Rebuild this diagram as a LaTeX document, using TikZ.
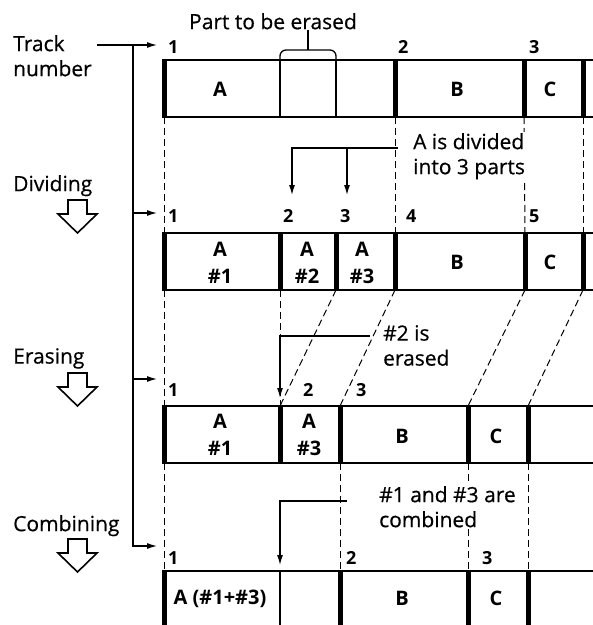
\documentclass[tikz,border=0pt]{standalone}
\usepackage{fontspec}
\setmainfont{Open Sans}
\newfontfamily\notefont{Open Sans}[FakeBold=0.5]
\usetikzlibrary{arrows.meta}
\tikzset{
  txt/.style={font=\notefont\fontsize{21}{25}\selectfont, inner sep=0pt, align=left, anchor=north west},
  note/.style={txt, fill=white, inner sep=1pt},
  celltxt/.style={font=\bfseries\fontsize{20}{27}\selectfont, inner sep=0pt, align=center},
  numtxt/.style={font=\bfseries\fontsize{18}{18}\selectfont, inner sep=0pt, anchor=south west},
  barline/.style={line width=1.3pt},
  thickmark/.style={line width=5pt},
  guide/.style={dash pattern=on 7pt off 4pt, line width=1pt},
  flowarrow/.style={-{Latex[length=10pt,width=6pt]}, line width=1.2pt},
  hollow/.style={draw, line width=1.6pt, fill=white, line join=miter}
}
\begin{document}
\begin{tikzpicture}[x=1pt, y=-1pt]
  \useasboundingbox (0,0) rectangle (593,625);

  % left-hand labels
  \node[txt] (track) at (13,35) {Track\\number};
  \node[txt] (divide) at (13,175) {Dividing};
  \node[txt] (erase) at (13,348) {Erasing};
  \node[txt] (combine) at (13,515) {Combining};
  \foreach \y in {200,373,539}
    \draw[hollow] (68,\y) -- ++(19,0) -- ++(0,14) -- ++(10,0) -- ++(-19.5,19) -- ++(-19.5,-19) -- ++(10,0) -- cycle;

  % row 1
  \draw[barline] (162,60) -- (593,60) (162,117) -- (593,117);
  \foreach \x [count=\i] in {164,280,336,395,524,583} {
    \coordinate (r1t\i) at (\x,60);
    \coordinate (r1b\i) at (\x,117);
  }
  \foreach \i in {1,4,5,6} \draw[thickmark] (r1t\i) -- (r1b\i);
  \foreach \i in {2,3} \draw[barline] (r1t\i) -- (r1b\i);
  \node[numtxt] (r1n1) at (168,54) {1};
  \node[numtxt] (r1n2) at (398,54) {2};
  \node[numtxt] (r1n3) at (529,54) {3};
  \node[celltxt] (r1a) at (220,89) {A};
  \node[celltxt] (r1b) at (457,89) {B};
  \node[celltxt] (r1c) at (550,89) {C};
  \node[txt, anchor=north] (part) at (273,13) {Part to be erased};
  \draw[barline, rounded corners=6pt] (r1t2) -- (280,50) -- (336,50) -- (r1t3);
  \draw[barline] (308,50) -- (part.south -| 308,50);

  % row 2
  \draw[barline] (162,233) -- (593,233) (162,290) -- (593,290);
  \foreach \x [count=\i] in {164,280,336,395,525,583} {
    \coordinate (r2t\i) at (\x,233);
    \coordinate (r2b\i) at (\x,290);
    \draw[thickmark] (r2t\i) -- (r2b\i);
  }
  \node[numtxt] (r2n1) at (168,223) {1};
  \node[numtxt] (r2n2) at (283,223) {2};
  \node[numtxt] (r2n3) at (340,223) {3};
  \node[numtxt] (r2n4) at (406,223) {4};
  \node[numtxt] (r2n5) at (529,223) {5};
  \node[celltxt] (r2a1) at (220,263) {A\\\#1};
  \node[celltxt] (r2a2) at (307,263) {A\\\#2};
  \node[celltxt] (r2a3) at (362,263) {A\\\#3};
  \node[celltxt] (r2b) at (457,262) {B};
  \node[celltxt] (r2c) at (550,262) {C};

  % row 3
  \draw[barline] (162,406) -- (593,406) (162,463) -- (593,463);
  \foreach \x [count=\i] in {164,280,340,468,528} {
    \coordinate (r3t\i) at (\x,406);
    \coordinate (r3b\i) at (\x,463);
    \draw[thickmark] (r3t\i) -- (r3b\i);
  }
  \node[numtxt] (r3n1) at (168,397) {1};
  \node[numtxt] (r3n2) at (303,397) {2};
  \node[numtxt] (r3n3) at (356,397) {3};
  \node[celltxt] (r3a1) at (220,435) {A\\\#1};
  \node[celltxt] (r3a3) at (309,435) {A\\\#3};
  \node[celltxt] (r3b) at (402,436) {B};
  \node[celltxt] (r3c) at (496,436) {C};

  % row 4
  \draw[barline] (162,571) -- (593,571);
  \foreach \x [count=\i] in {164,280,340,468,528} {
    \coordinate (r4t\i) at (\x,571);
    \coordinate (r4b\i) at (\x,625);
  }
  \foreach \i in {1,3,4,5} \draw[thickmark] (r4t\i) -- (r4b\i);
  \draw[barline] (r4t2) -- (r4b2);
  \node[numtxt] (r4n1) at (168,565) {1};
  \node[numtxt] (r4n2) at (346,565) {2};
  \node[numtxt] (r4n3) at (482,565) {3};
  \node[celltxt] (r4a) at (220,599) {A (\#1+\#3)};
  \node[celltxt] (r4b) at (402,598) {B};
  \node[celltxt] (r4c) at (496,598) {C};

  % dashed guides between rows
  \foreach \i in {1,4,5,6} \draw[guide] (r1b\i) -- (r2t\i);
  \foreach \a/\b in {1/1,2/2,3/2,4/3,5/4,6/5} \draw[guide] (r2b\a) -- (r3t\b);
  \foreach \i in {1,3,4,5} \draw[guide] (r3b\i) -- (r4t\i);

  % track number feed
  \coordinate (trackout) at (97,45);
  \foreach \y [count=\i] in {45,213,379,546} {
    \coordinate (s\i) at (133,\y);
    \coordinate (in\i) at (157,\y);
  }
  \draw[flowarrow] (trackout) -- (in1);
  \draw[flowarrow] (s1) -- (s4) -- (in4);
  \foreach \i in {2,3} \draw[flowarrow] (s\i) -- (in\i);

  % callouts
  \node[note] (divnote) at (412,132) {A is divided\\into 3 parts};
  \coordinate (dv0) at (398,148);
  \coordinate (dv1) at (292,148);
  \coordinate (dv2) at (347,148);
  \draw[flowarrow] (dv0) -- (dv1) -- ++(0,47);
  \draw[flowarrow] (dv2) -- ++(0,47);

  \node[txt] (erasenote) at (383,325) {\#2 is\\erased};
  \coordinate (er0) at (370,336);
  \coordinate (er1) at (280,336);
  \draw[flowarrow] (er0) -- (er1) -- ++(0,62);

  \node[note] (combnote) at (378,485) {\#1 and \#3 are\\combined};
  \coordinate (cb0) at (347,501);
  \coordinate (cb1) at (280,501);
  \draw[flowarrow] (cb0) -- (cb1) -- ++(0,64);
\end{tikzpicture}
\end{document}
